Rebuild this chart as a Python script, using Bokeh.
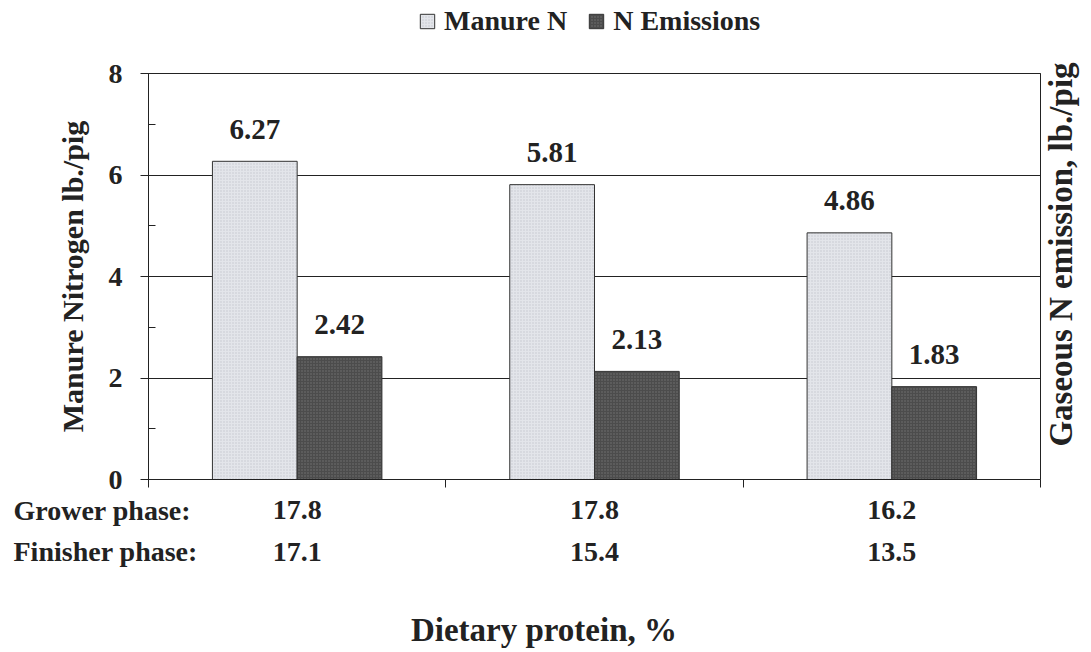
from bokeh.plotting import figure
from bokeh.models import (Range1d, SingleIntervalTicker, FixedTicker, Label,
                          Legend, LegendItem, ColumnDataSource, LinearAxis, Grid)
from bokeh.core.properties import value
from bokeh.embed import file_html
from bokeh.resources import INLINE
import numpy as np

# --- data -------------------------------------------------------------
diets = [0, 1, 2]                      # three dietary programmes
manure_n = [6.27, 5.81, 4.86]          # manure nitrogen, lb./pig
n_emissions = [2.42, 2.13, 1.83]       # gaseous N emission, lb./pig
grower_protein = ["17.8", "17.8", "16.2"]
finisher_protein = ["17.1", "15.4", "13.5"]
row_titles = ["Grower phase:", "Finisher phase:"]
y_max = 8
y_step = 2

SERIF = "Liberation Serif"
INK = "#222222"

# The plotting frame fills the canvas; the value axes are pinned inside it
# so that the captions around the chart share the same coordinates.
W, H = 1091, 652
left_px, right_px, top_px, bottom_px = 148, 1040, 73, 479
n = len(diets)
ux = (right_px - left_px) / n
uy = (bottom_px - top_px) / y_max
x_range = Range1d(-left_px / ux, n + (W - right_px) / ux)
y_range = Range1d(-(H - bottom_px) / uy, y_max + top_px / uy)

p = figure(width=W, height=H, output_backend="svg", toolbar_location=None,
           x_range=x_range, y_range=y_range,
           x_axis_type=None, y_axis_type=None,
           min_border=0, min_border_left=0, min_border_right=0,
           min_border_top=0, min_border_bottom=0,
           background_fill_color="white", border_fill_color="white",
           outline_line_color=None)
p.grid.visible = False

# horizontal grid lines, limited to the plotting box
gkw = dict(dimension=1, ticker=SingleIntervalTicker(interval=y_step),
           bounds=(0, y_max), grid_line_color=INK, grid_line_width=1)
if "cross_bounds" in Grid.properties():
    gkw["cross_bounds"] = (0, n)
    p.add_layout(Grid(**gkw))
else:
    levels = list(range(y_step, y_max, y_step))
    p.segment(x0=[0] * len(levels), x1=[n] * len(levels), y0=levels, y1=levels,
              line_color=INK, line_width=1)

# --- bars ---------------------------------------------------------------
bar_w = 0.285
idx = np.array(diets, dtype=float)
src = ColumnDataSource(dict(
    x_m=idx + 0.5 - bar_w / 2, x_e=idx + 0.5 + bar_w / 2,
    manure=manure_n, emis=n_emissions,
    lab_m=[f"{v:.2f}" for v in manure_n], lab_e=[f"{v:.2f}" for v in n_emissions]))

r_m = p.vbar(x="x_m", top="manure", width=bar_w, source=src,
             fill_color="#e3e5ea", line_color="#333333", line_width=1,
             hatch_pattern="dot", hatch_scale=3, hatch_weight=0.7,
             hatch_color="#b9bdc5", hatch_alpha=0.7)
r_e = p.vbar(x="x_e", top="emis", width=bar_w, source=src,
             fill_color="#4c4c4c", line_color="#333333", line_width=1,
             hatch_pattern="dot", hatch_scale=3, hatch_weight=0.7,
             hatch_color="#7a7a7a", hatch_alpha=0.8)

# value labels above each bar
for xcol, ycol, tcol in (("x_m", "manure", "lab_m"), ("x_e", "emis", "lab_e")):
    p.text(x=xcol, y=ycol, text=tcol, source=src, y_offset=-32,
           text_align="center", text_baseline="alphabetic",
           text_font=value(SERIF), text_font_style="bold",
           text_font_size="29px", text_color=INK)

# --- axes ---------------------------------------------------------------
yax = LinearAxis(fixed_location=0, bounds=(0, y_max),
                 ticker=SingleIntervalTicker(interval=y_step, num_minor_ticks=2),
                 major_tick_out=8, major_tick_in=0,
                 minor_tick_in=7, minor_tick_out=0,
                 major_tick_line_color=INK, minor_tick_line_color=INK,
                 axis_line_color=INK,
                 major_label_standoff=18,
                 major_label_text_font=SERIF, major_label_text_font_style="bold",
                 major_label_text_font_size="28px", major_label_text_color=INK,
                 axis_label="Manure Nitrogen lb./pig",
                 axis_label_text_font=SERIF, axis_label_text_font_style="bold",
                 axis_label_text_font_size="30px", axis_label_text_color=INK,
                 axis_label_standoff=17)
p.add_layout(yax, "left")

xax = LinearAxis(fixed_location=0, bounds=(0, n),
                 ticker=FixedTicker(ticks=list(range(n + 1))),
                 major_tick_out=8, major_tick_in=0,
                 minor_tick_out=0, minor_tick_in=0,
                 major_tick_line_color=INK, axis_line_color=INK,
                 major_label_text_color=None)
p.add_layout(xax, "below")

# closing lines of the plotting box
for side, loc, bnds in (("right", n, (0, y_max)), ("above", y_max, (0, n))):
    p.add_layout(LinearAxis(fixed_location=loc, bounds=bnds,
                            ticker=FixedTicker(ticks=[]),
                            major_tick_out=0, major_tick_in=0,
                            minor_tick_out=0, minor_tick_in=0,
                            axis_line_color=INK, major_label_text_color=None),
                 side)

# --- protein levels under each group -------------------------------------
def put(text, x, y, align="left", size="28px", angle=0, baseline="alphabetic"):
    p.add_layout(Label(x=x, y=y, text=text, x_units="data", y_units="data",
                       text_align=align, text_baseline=baseline,
                       angle=angle, angle_units="deg",
                       text_font=SERIF, text_font_style="bold",
                       text_font_size=size, text_color=INK))

row_y = [-0.61, -1.42]
put(row_titles[0], -0.454, row_y[0])
put(row_titles[1], -0.454, row_y[1])
for i, (g, f) in enumerate(zip(grower_protein, finisher_protein)):
    put(g, diets[i] + 0.5, row_y[0], align="center")
    put(f, diets[i] + 0.5, row_y[1], align="center")

put("Dietary protein, %", 1.33, -2.975, align="center", size="33px")

# right-hand title
put("Gaseous N emission, lb./pig", 3.068, 4.433, align="center", size="33px",
    angle=90, baseline="middle")

# --- legend ------------------------------------------------------------------
legend = Legend(items=[LegendItem(label="Manure N", renderers=[r_m]),
                       LegendItem(label="N Emissions", renderers=[r_e])],
                orientation="horizontal", location=(418, 615),
                border_line_color=None, background_fill_alpha=0,
                padding=0, margin=0, spacing=20, label_standoff=8,
                glyph_width=18, glyph_height=18,
                label_text_font=SERIF, label_text_font_style="bold",
                label_text_font_size="28px", label_text_color=INK)
p.add_layout(legend, "center")

open("out.html", "w").write(file_html(p, INLINE))
